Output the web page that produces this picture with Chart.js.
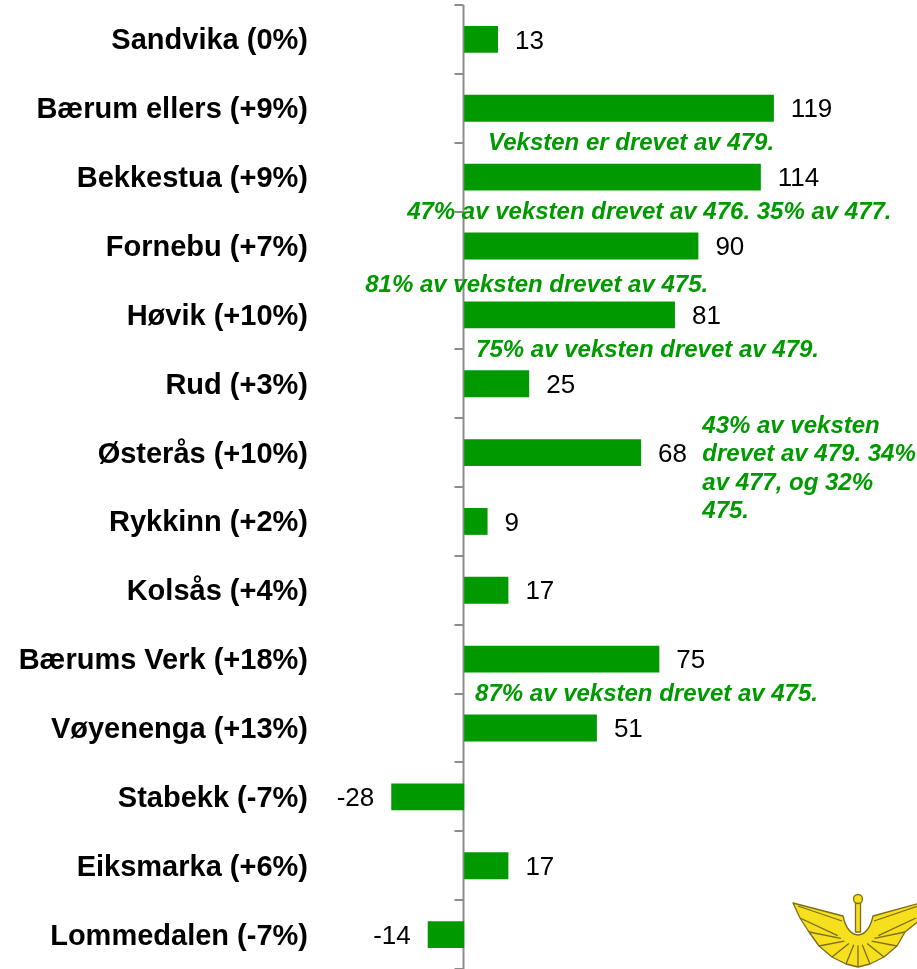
<!DOCTYPE html>
<html>
<head>
<meta charset="utf-8">
<script src="https://cdn.jsdelivr.net/npm/chart.js@4"></script>
<style>
  html, body { margin: 0; padding: 0; background: #fff; }
  #wrap { width: 917px; height: 969px; position: relative; }
</style>
</head>
<body>
<div id="wrap"><canvas id="growthChart"></canvas></div>
<script>
// --- data ---
const categories = ['Sandvika (0%)', 'Bærum ellers (+9%)', 'Bekkestua (+9%)', 'Fornebu (+7%)', 'Høvik (+10%)',
    'Rud (+3%)', 'Østerås (+10%)', 'Rykkinn (+2%)', 'Kolsås (+4%)', 'Bærums Verk (+18%)',
    'Vøyenenga (+13%)', 'Stabekk (-7%)', 'Eiksmarka (+6%)', 'Lommedalen (-7%)'];
const growth = [13, 119, 114, 90, 81, 25, 68, 9, 17, 75, 51, -28, 17, -14];
const notes = [
    ['Veksten er drevet av 479.'],
    ['47% av veksten drevet av 476. 35% av 477.'],
    ['81% av veksten drevet av 475.'],
    ['75% av veksten drevet av 479.'],
    ['43% av veksten', 'drevet av 479. 34%', 'av 477, og 32%', '475.'],
    ['87% av veksten drevet av 475.']
];

const GREEN = '#009900';
const FONT = '"Liberation Sans", Arial, sans-serif';

// where each note sits (category index, x value of its left edge)
const noteAnchors = [
    { cat: 1.5, x: 9.2 },
    { cat: 2.5, x: -21.9 },
    { cat: 3.56, x: -38 },
    { cat: 4.5, x: 4.6 },
    { cat: 5.6, x: 91.5 },
    { cat: 9.5, x: 4.2 }
];

const extrasPlugin = {
    id: 'extras',
    beforeDatasetsDraw(chart) {
        const ctx = chart.ctx;
        const x = chart.scales.x;
        const area = chart.chartArea;
        const zero = Math.round(x.getPixelForValue(0)) - 0.5;
        const step = (area.bottom - area.top) / categories.length;
        ctx.save();
        ctx.strokeStyle = '#8c8c8c';
        ctx.lineWidth = 2;
        ctx.beginPath();
        ctx.moveTo(zero, area.top);
        ctx.lineTo(zero, area.bottom);
        for (let i = 0; i <= categories.length; i++) {
            const ty = Math.round(area.top + i * step);
            ctx.moveTo(zero - 9, ty);
            ctx.lineTo(zero, ty);
        }
        ctx.stroke();
        ctx.restore();
    },
    afterDatasetsDraw(chart) {
        const ctx = chart.ctx;
        const x = chart.scales.x, y = chart.scales.y;
        const meta = chart.getDatasetMeta(0);
        ctx.save();
        // value labels
        ctx.font = '26px ' + FONT;
        ctx.fillStyle = '#000';
        ctx.textBaseline = 'middle';
        meta.data.forEach((bar, i) => {
            const v = growth[i];
            if (v >= 0) {
                ctx.textAlign = 'left';
                ctx.fillText(String(v), bar.x + 17, bar.y + 2);
            } else {
                ctx.textAlign = 'right';
                ctx.fillText(String(v), bar.x - 17, bar.y + 2);
            }
        });
        // notes
        ctx.font = 'italic bold 24px ' + FONT;
        ctx.fillStyle = GREEN;
        ctx.textAlign = 'left';
        notes.forEach((lines, n) => {
            const a = noteAnchors[n];
            const px = x.getPixelForValue(a.x);
            const py = y.getPixelForValue(a.cat);
            lines.forEach((line, k) => ctx.fillText(line, px, py + 1 + k * 28.5));
        });
        ctx.restore();
        drawLogo(ctx);
    }
};

// small winged emblem in the bottom right corner
function drawLogo(ctx) {
    ctx.save();
    ctx.lineJoin = 'round';
    ctx.fillStyle = '#f6df1c';
    ctx.strokeStyle = '#7d6c1a';
    ctx.lineWidth = 1.3;
    ctx.beginPath();
    ctx.moveTo(793, 903);
    ctx.lineTo(843, 916);
    ctx.quadraticCurveTo(847, 934, 858, 935);
    ctx.quadraticCurveTo(869, 934, 873, 916);
    ctx.lineTo(920, 903);
    ctx.lineTo(920, 920);
    ctx.lineTo(905, 932);
    ctx.lineTo(897, 946);
    ctx.lineTo(884, 957);
    ctx.lineTo(870, 964);
    ctx.lineTo(858, 967);
    ctx.lineTo(846, 964);
    ctx.lineTo(832, 957);
    ctx.lineTo(819, 946);
    ctx.lineTo(809, 932);
    ctx.lineTo(800, 918);
    ctx.closePath();
    ctx.fill();
    ctx.stroke();
    // feathers
    ctx.beginPath();
    const ends = [[800, 918], [809, 932], [819, 946], [832, 957], [846, 964], [858, 967],
        [870, 964], [884, 957], [897, 946], [905, 932], [916, 918]];
    ends.forEach(([ex, ey]) => {
        const sx = 858 + (ex - 858) * 0.35;
        const sy = 940 + (ey - 940) * 0.2;
        ctx.moveTo(sx, sy);
        ctx.lineTo(ex, ey);
    });
    ctx.moveTo(798, 906);
    ctx.lineTo(842, 921);
    ctx.moveTo(918, 906);
    ctx.lineTo(874, 921);
    ctx.stroke();
    // rod and ball
    ctx.fillRect(855.5, 902, 5, 30);
    ctx.strokeRect(855.5, 902, 5, 30);
    ctx.beginPath();
    ctx.arc(858, 899, 4.5, 0, Math.PI * 2);
    ctx.fill();
    ctx.stroke();
    ctx.restore();
}

document.addEventListener('DOMContentLoaded', function () {
    const ctx = document.getElementById('growthChart').getContext('2d');
    new Chart(ctx, {
        type: 'bar',
        data: {
            labels: categories,
            datasets: [{
                data: growth,
                backgroundColor: GREEN,
                borderWidth: 0,
                barPercentage: 0.39,
                categoryPercentage: 1
            }]
        },
        options: {
            indexAxis: 'y',
            responsive: true,
            maintainAspectRatio: false,
            animation: false,
            layout: { padding: { top: 5, right: 0, bottom: 0, left: 0 } },
            plugins: {
                legend: { display: false },
                tooltip: { enabled: false }
            },
            scales: {
                x: {
                    display: false,
                    min: -55,
                    max: 174
                },
                y: {
                    grid: { display: false, drawTicks: false },
                    border: { display: false },
                    ticks: {
                        autoSkip: false,
                        padding: 13,
                        labelOffset: 2,
                        color: '#000',
                        font: { family: FONT, size: 29, weight: 'bold' }
                    },
                    afterFit(scale) {
                        scale.width = 321;
                        scale.paddingTop = 0;
                        scale.paddingBottom = 0;
                    }
                }
            }
        },
        plugins: [extrasPlugin]
    });
});
</script>
</body>
</html>
